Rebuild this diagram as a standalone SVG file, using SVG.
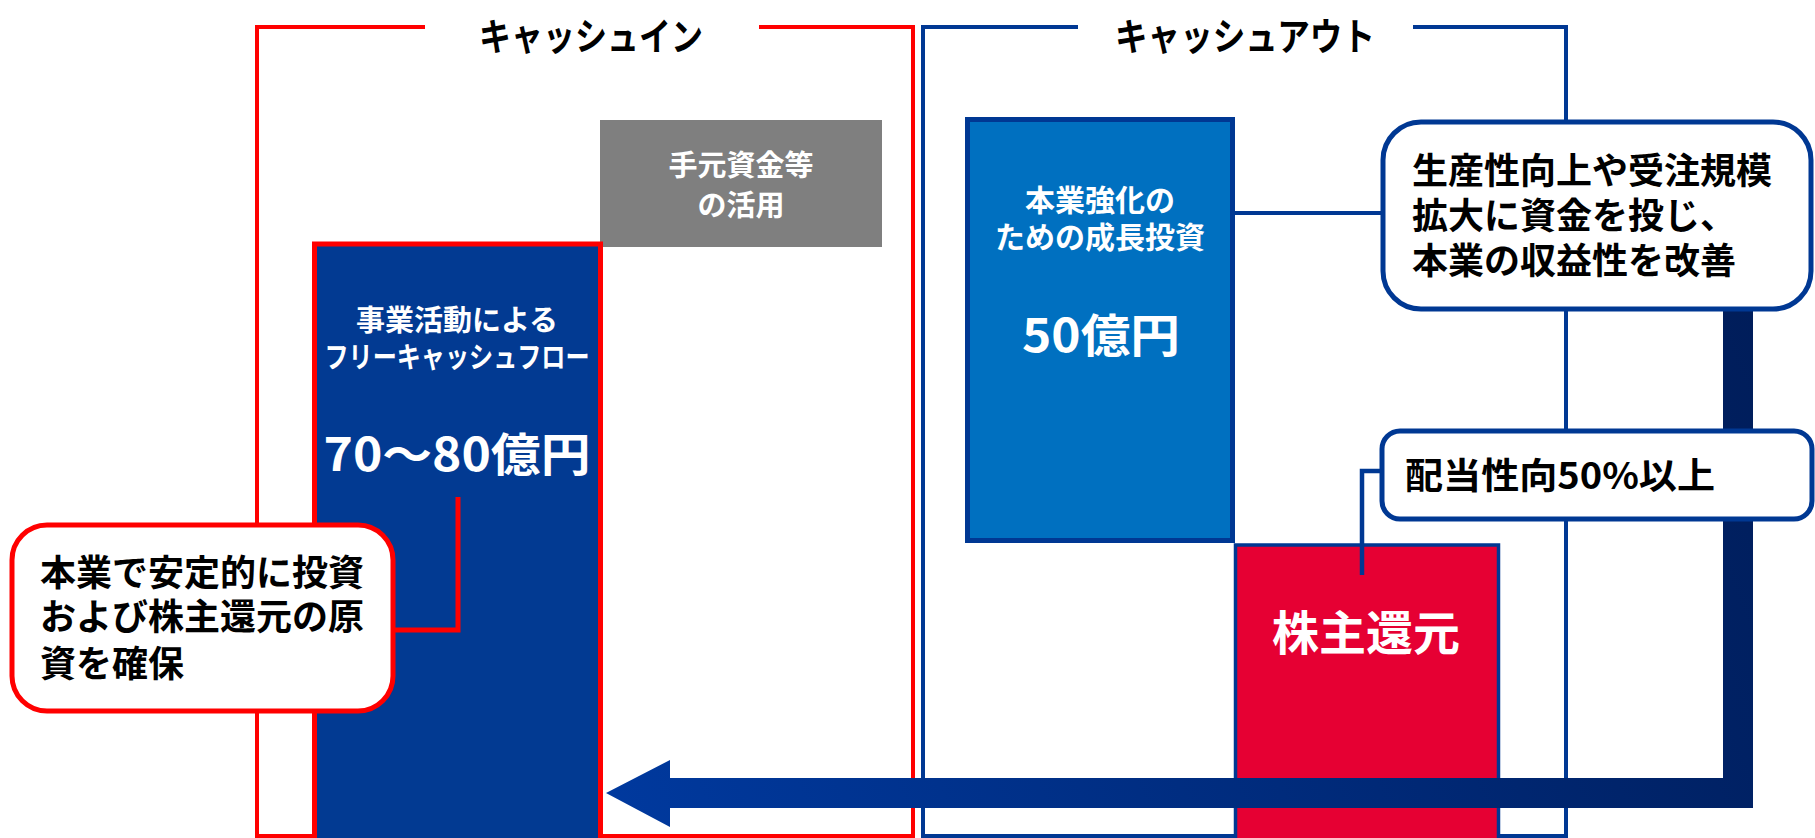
<svg xmlns="http://www.w3.org/2000/svg" width="1815" height="838" viewBox="0 0 1815 838">
<style>
text{font-family:"Noto Sans CJK JP","Noto Sans",sans-serif;font-weight:bold}
.w{fill:#fff}
.k{fill:#000}
.mid{text-anchor:middle}
.frameR{fill:none;stroke:#FF0000;stroke-width:4}
.frameB{fill:none;stroke:#003893;stroke-width:4}
.call{fill:#fff;stroke-width:5}
</style>
<defs>
<linearGradient id="ag" gradientUnits="userSpaceOnUse" x1="606" y1="800" x2="1753" y2="310">
<stop offset="0" stop-color="#00399E"/>
<stop offset="1" stop-color="#001D5A"/>
</linearGradient>
</defs>
<rect width="1815" height="838" fill="#fff"/>
<g id="frame-in">
<path class="frameR" d="M425,27 H257 V836 H913 V27 H759"/>
<text class="k mid" x="591" y="50" font-size="38" textLength="224" lengthAdjust="spacingAndGlyphs">キャッシュイン</text>
</g>
<g id="frame-out">
<path class="frameB" d="M1078,27 H923 V836 H1566 V27 H1413"/>
<text class="k mid" x="1245" y="50" font-size="38" textLength="260" lengthAdjust="spacingAndGlyphs">キャッシュアウト</text>
</g>
<g id="cash-on-hand">
<rect x="600" y="120" width="282" height="127" fill="#7F7F7F"/>
<text class="w mid" x="741" y="176" font-size="29">手元資金等</text>
<text class="w mid" x="741" y="216" font-size="29">の活用</text>
</g>
<g id="fcf">
<rect x="314.5" y="244" width="286" height="600" fill="#023A92" stroke="#FF0000" stroke-width="5"/>
<text class="w mid" x="457" y="331" font-size="29">事業活動による</text>
<text class="w mid" x="457" y="368" font-size="29" textLength="265" lengthAdjust="spacingAndGlyphs">フリーキャッシュフロー</text>
<text class="w mid" x="457" y="471" font-size="46" textLength="267" lengthAdjust="spacingAndGlyphs">70～80億円</text>
</g>
<g id="growth">
<rect x="967.5" y="119.5" width="265" height="421" fill="#0070C0" stroke="#003893" stroke-width="5"/>
<text class="w mid" x="1100" y="211" font-size="30">本業強化の</text>
<text class="w mid" x="1100" y="248" font-size="30">ための成長投資</text>
<text class="w mid" x="1101" y="352" font-size="46" textLength="158" lengthAdjust="spacingAndGlyphs">50億円</text>
</g>
<g id="return">
<rect x="1235.5" y="545" width="263" height="300" fill="#E60033" stroke="#003893" stroke-width="3.5"/>
<text class="w mid" x="1366" y="650" font-size="47">株主還元</text>
</g>
<g id="connectors">
<path d="M393,630 H458 V497" fill="none" stroke="#FF0000" stroke-width="5"/>
<path d="M1235,213 H1383" fill="none" stroke="#003893" stroke-width="4"/>
<path d="M1382,471 H1362 V575" fill="none" stroke="#003893" stroke-width="4.5"/>
<path id="flow-arrow" d="M1753,310 V808 H670 V827 L606,793 L670,760 V778 H1723 V310 Z" fill="url(#ag)"/>
</g>
<g id="callout-left">
<rect class="call" x="12" y="525" width="381" height="186" rx="35" stroke="#FF0000"/>
<text class="k" x="40" y="586" font-size="36">本業で安定的に投資</text>
<text class="k" x="40" y="630" font-size="36">および株主還元の原</text>
<text class="k" x="40" y="677" font-size="36">資を確保</text>
</g>
<g id="callout-growth">
<rect class="call" x="1383" y="122" width="428" height="187" rx="38" stroke="#003893"/>
<text class="k" x="1412" y="184" font-size="36">生産性向上や受注規模</text>
<text class="k" x="1412" y="229" font-size="36">拡大に資金を投じ、</text>
<text class="k" x="1412" y="274" font-size="36">本業の収益性を改善</text>
</g>
<g id="callout-dividend">
<rect class="call" x="1382" y="431" width="430" height="88" rx="18" stroke="#003893"/>
<text class="k" x="1405" y="489" font-size="36" textLength="310" lengthAdjust="spacingAndGlyphs">配当性向50%以上</text>
</g>
</svg>
